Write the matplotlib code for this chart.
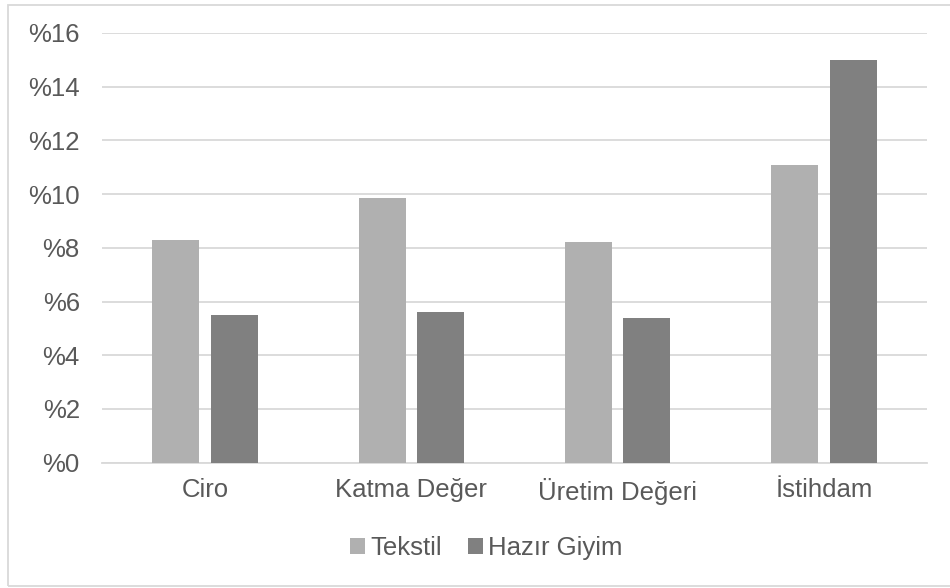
import numpy as np
import matplotlib
matplotlib.use('Agg')
import matplotlib.pyplot as plt
from matplotlib.patches import Rectangle

categories = ['Ciro', 'Katma Değer', 'Üretim Değeri', 'İstihdam']
tekstil = [8.3, 9.85, 8.2, 11.1]
hazir_giyim = [5.5, 5.6, 5.4, 15.0]
yticks = [0, 2, 4, 6, 8, 10, 12, 14, 16]

plt.rcParams['font.family'] = ['Liberation Sans', 'DejaVu Sans']
txt = '#595959'
grid = '#d9d9d9'

fig = plt.figure(figsize=(9.5, 5.88), dpi=100)
ax = fig.add_axes([0.1074, 0.2131, 0.8684, 0.7308])

x = np.arange(len(categories))
w = 0.228
ax.bar(x - 0.142, tekstil, w, color='#b0b0b0', label='Tekstil', zorder=3)
ax.bar(x + 0.142, hazir_giyim, w, color='#808080', label='Hazır Giyim', zorder=3)

ax.set_xlim(-0.5, len(categories) - 0.5)
ax.set_ylim(0, 16)
ax.set_yticks(yticks)
ax.set_yticklabels(['%' + str(v) for v in yticks])
ax.set_xticks(x)
ax.set_xticklabels(categories)
ax.yaxis.grid(True, color=grid, linewidth=1.3, zorder=0)
ax.tick_params(axis='both', length=0, labelsize=18.5, colors=txt)
ax.tick_params(axis='y', pad=16)
ax.tick_params(axis='x', pad=11)
for s in ['top', 'right', 'left']:
    ax.spines[s].set_visible(False)
ax.spines['bottom'].set_color(grid)
ax.spines['bottom'].set_linewidth(1.3)

fig.legend(loc='center', bbox_to_anchor=(0.512, 0.068), ncol=2, frameon=False,
           fontsize=18.5, labelcolor=txt, handlelength=0.6, handleheight=0.6,
           handletextpad=0.2, columnspacing=1.0)

# thin frame round the whole chart
fig.patches.append(Rectangle((0.0084, 0.0034), 0.995, 0.988, transform=fig.transFigure,
                             fill=False, edgecolor=grid, linewidth=1.3))

fig.savefig('out.png', dpi=100)
